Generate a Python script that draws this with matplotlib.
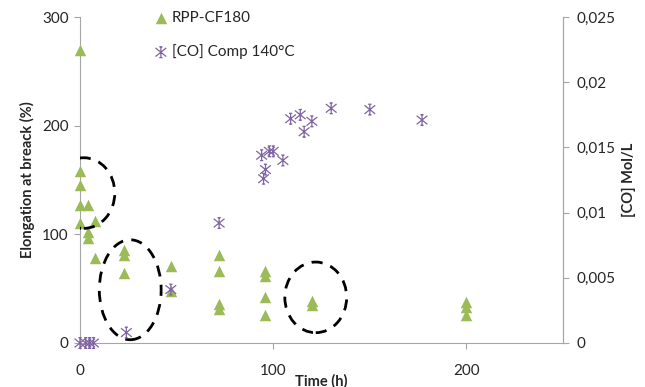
import matplotlib.pyplot as plt
import numpy as np
from matplotlib.patches import Ellipse
from matplotlib.path import Path

plt.rcParams['font.family'] = ['Lato', 'DejaVu Sans']

# Elongation at break (RPP-CF180)
ELONG_TIME = [0, 0, 0, 0, 0, 4, 4, 4, 8, 8, 23, 23, 23, 47, 47,
              72, 72, 72, 72, 96, 96, 96, 96, 120, 120, 200, 200, 200]
ELONG_VALUE = [270, 158, 145, 127, 110, 127, 102, 97, 112, 78, 86, 81, 64, 71, 48,
               81, 66, 36, 31, 66, 62, 42, 26, 39, 35, 38, 33, 26]

# Carbonyl concentration, compression 140 °C
CO_TIME = [0, 3, 5, 7, 24, 47, 72, 94, 95, 96, 98, 100, 105,
           109, 114, 116, 120, 130, 150, 177]
CO_VALUE = [0, 0, 0, 0, 0.0008, 0.0041, 0.0092, 0.0144, 0.0126, 0.0133, 0.0147, 0.0147, 0.0140,
            0.0172, 0.0175, 0.0162, 0.0170, 0.0180, 0.0179, 0.0171]

# dashed ellipses: (centre time, centre elongation, width, height)
ELLIPSES = [(2, 138, 32, 65), (26, 49, 32, 92), (122, 42, 32, 65)]

GREEN = "#9BBB59"
PURPLE = "#8064A2"
AXIS_GREY = "#A6A6A6"
TEXT = "#262626"

# Excel-like star: X + vertical line with small caps
star = Path(
    [(-1, -0.8), (1, 0.8), (-1, 0.8), (1, -0.8), (0, -1), (0, 1),
     (-0.3, 1), (0.3, 1), (-0.3, -1), (0.3, -1)],
    [Path.MOVETO, Path.LINETO] * 5,
)

fig = plt.figure(figsize=(6.45, 3.87), dpi=100)
ax = fig.add_axes([0.124, 0.1137, 0.749, 0.8423])
ax2 = ax.twinx()

h1 = ax.scatter(ELONG_TIME, ELONG_VALUE, marker="^", s=68, color=GREEN,
                linewidths=0, zorder=3, clip_on=False, label="RPP-CF180")
h2 = ax2.scatter(CO_TIME, CO_VALUE, marker=star, s=60, facecolors="none",
                 edgecolors=PURPLE, linewidths=0.9, zorder=3, clip_on=False,
                 label="[CO] Comp 140°C")

for cx, cy, w, h in ELLIPSES:
    ax.add_patch(Ellipse((cx, cy), w, h, fill=False, edgecolor="black",
                         linewidth=2, linestyle=(0, (4, 3)), zorder=4))

ax.set_xlim(0, 250)
ax.set_ylim(0, 300)
ax2.set_ylim(0, 0.025)
ax.set_xticks([0, 100, 200])
ax.set_yticks([0, 100, 200, 300])
ax2.set_yticks([0, 0.005, 0.01, 0.015, 0.02, 0.025])
ax2.set_yticklabels(["0", "0,005", "0,01", "0,015", "0,02", "0,025"])

for a in (ax, ax2):
    a.spines["top"].set_visible(False)
    for side in ("left", "right", "bottom"):
        a.spines[side].set_color(AXIS_GREY)
    a.tick_params(colors=AXIS_GREY, labelcolor=TEXT, labelsize=11, length=4)
ax.tick_params(axis="x", pad=11)
ax.tick_params(axis="y", pad=4)
ax2.tick_params(axis="y", pad=6)
ax2.spines["left"].set_visible(False)
ax2.spines["bottom"].set_visible(False)

ax.set_xlabel("Time (h)", fontsize=10.5, fontweight="bold", color=TEXT, labelpad=-3)
ax.set_ylabel("Elongation at breack (%)", fontsize=10.5, fontweight="bold", color=TEXT, labelpad=5)
ax2.set_ylabel("[CO] Mol/L", fontsize=10.5, fontweight="bold", color=TEXT, labelpad=4)

ax2.legend(handles=[h1, h2], loc="upper left", bbox_to_anchor=(0.12, 1.06),
           frameon=False, fontsize=11, handletextpad=0.1, labelspacing=1.25,
           handlelength=1.2, scatterpoints=1, labelcolor=TEXT)

fig.savefig("out.png", dpi=100)
